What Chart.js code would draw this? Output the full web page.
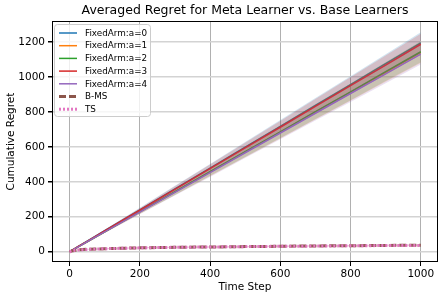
<!DOCTYPE html>
<html>
<head>
<meta charset="utf-8">
<script src="https://cdn.jsdelivr.net/npm/chart.js@4.4.1/dist/chart.umd.min.js"></script>
<style>
  html, body { margin: 0; padding: 0; background: #fff; }
  #wrap { width: 448px; height: 299px; position: relative; }
</style>
</head>
<body>
<div id="wrap"><canvas id="chartRegret"></canvas></div>
<script>
// time steps where the curves are sampled
const steps = [0, 10, 25, 50, 100, 200, 300, 400, 500, 600, 700, 800, 900, 1000];

// averaged cumulative regret
const arm0 = [0, 12, 30, 60, 120, 239, 359, 478, 598, 717, 837, 956, 1076, 1195];
const arm1 = [0, 11, 28, 57, 114, 228, 342, 456, 570, 684, 798, 912, 1026, 1140];
const arm2 = [0, 11, 29, 57, 114, 229, 343, 458, 572, 686, 801, 915, 1030, 1144];
const arm3 = [0, 12, 30, 59, 119, 237, 356, 475, 594, 712, 831, 950, 1068, 1187];
const arm4 = [0, 11, 28, 57, 113, 226, 339, 452, 566, 679, 792, 905, 1018, 1131];
const bms = [0, 6, 10, 14, 17, 22, 25, 27, 29, 31, 33, 34, 36, 37];
const ts = [0, 6, 10, 13, 17, 22, 25, 27, 29, 31, 32, 34, 35, 36];

// half width of the shaded bands
const armSpread = [0, 1, 2, 3, 6, 12, 18, 24, 30, 36, 42, 48, 54, 60];
const metaSpread = [0, 1, 2, 2, 3, 3, 3, 4, 4, 4, 4, 4, 5, 5];

const xTicks = [0, 200, 400, 600, 800, 1000];
const yTicks = [0, 200, 400, 600, 800, 1000, 1200];

const series = [
  { label: 'FixedArm:a=0', color: '31,119,180', values: arm0, spread: armSpread, width: 1.5, dash: [] },
  { label: 'FixedArm:a=1', color: '255,127,14', values: arm1, spread: armSpread, width: 1.5, dash: [] },
  { label: 'FixedArm:a=2', color: '44,160,44', values: arm2, spread: armSpread, width: 1.5, dash: [] },
  { label: 'FixedArm:a=3', color: '214,39,40', values: arm3, spread: armSpread, width: 1.5, dash: [] },
  { label: 'FixedArm:a=4', color: '148,103,189', values: arm4, spread: armSpread, width: 1.5, dash: [] },
  { label: 'B-MS', color: '140,86,75', values: bms, spread: metaSpread, width: 3, dash: [7, 3] },
  { label: 'TS', color: '227,119,194', values: ts, spread: metaSpread, width: 3, dash: [2, 2] }
];

const datasets = [];
series.forEach((s, k) => {
  const order = 100 - k * 3;
  const upperIdx = datasets.length;
  datasets.push({
    data: steps.map((x, i) => ({ x: x, y: s.values[i] + s.spread[i] })),
    borderWidth: 0, pointRadius: 0, fill: false, order: order
  });
  datasets.push({
    data: steps.map((x, i) => ({ x: x, y: s.values[i] - s.spread[i] })),
    borderWidth: 0, pointRadius: 0, fill: upperIdx,
    backgroundColor: 'rgba(' + s.color + ',0.2)', order: order - 1
  });
  datasets.push({
    label: s.label,
    data: steps.map((x, i) => ({ x: x, y: s.values[i] })),
    borderColor: 'rgb(' + s.color + ')', borderWidth: s.width, borderDash: s.dash,
    pointRadius: 0, fill: false, order: order - 2
  });
});

const FONT = "'DejaVu Sans', sans-serif";

const decor = {
  id: 'decor',
  afterDraw(chart) {
    const c = chart.ctx;
    const a = chart.chartArea;
    c.save();
    // frame
    c.strokeStyle = '#000';
    c.lineWidth = 1;
    c.strokeRect(a.left + 0.5, a.top + 0.5, a.right - a.left - 1, a.bottom - a.top - 1);
    // title
    c.fillStyle = '#000';
    c.font = '12.5px ' + FONT;
    c.textAlign = 'center';
    c.textBaseline = 'middle';
    c.fillText('Averaged Regret for Meta Learner vs. Base Learners', (a.left + a.right) / 2, 11);
    // legend
    const bx = 54, by = 24, bw = 96, bh = 92;
    c.fillStyle = 'rgba(255,255,255,0.8)';
    c.strokeStyle = '#cccccc';
    c.lineWidth = 1;
    c.beginPath();
    c.roundRect(bx + 0.5, by + 0.5, bw, bh, 3);
    c.fill();
    c.stroke();
    c.font = '8.8px ' + FONT;
    c.textAlign = 'left';
    series.forEach((s, i) => {
      const y = by + 9 + i * 12.7;
      c.strokeStyle = 'rgb(' + s.color + ')';
      c.lineWidth = s.width;
      c.setLineDash(s.dash);
      c.beginPath();
      c.moveTo(59, y);
      c.lineTo(77, y);
      c.stroke();
      c.setLineDash([]);
      c.fillStyle = '#000';
      c.fillText(s.label, 85, y + 0.5);
    });
    c.restore();
  }
};

new Chart(document.getElementById('chartRegret').getContext('2d'), {
  type: 'line',
  data: { datasets: datasets },
  options: {
    responsive: true,
    maintainAspectRatio: false,
    animation: false,
    layout: { padding: { top: 21, right: 10, left: 0, bottom: 0 } },
    plugins: {
      legend: { display: false },
      title: { display: false },
      tooltip: { enabled: false },
      filler: { propagate: false }
    },
    scales: {
      x: {
        type: 'linear',
        min: -50,
        max: 1049,
        afterBuildTicks: sc => { sc.ticks = xTicks.map(v => ({ value: v })); },
        afterFit: sc => { sc.height = 37; },
        ticks: { color: '#000', font: { family: FONT, size: 10.5 }, padding: 2, maxRotation: 0, callback: v => String(v) },
        grid: { color: '#b0b0b0', lineWidth: 1, tickLength: 4, tickColor: '#000' },
        border: { display: false },
        title: { display: true, text: 'Time Step', color: '#000', font: { family: FONT, size: 10.5 }, padding: { top: 0, bottom: 5 } }
      },
      y: {
        min: -59,
        max: 1320,
        afterBuildTicks: sc => { sc.ticks = yTicks.map(v => ({ value: v })); },
        afterFit: sc => { sc.width = 52; },
        ticks: { color: '#000', font: { family: FONT, size: 10.5 }, padding: 3, callback: v => String(v) },
        grid: { color: '#d3d3d3', lineWidth: 1.5, tickLength: 4, tickColor: '#000' },
        border: { display: false },
        title: { display: true, text: 'Cumulative Regret', color: '#000', font: { family: FONT, size: 10.5 }, padding: { top: 5, bottom: 0 } }
      }
    }
  },
  plugins: [decor]
});
</script>
</body>
</html>
